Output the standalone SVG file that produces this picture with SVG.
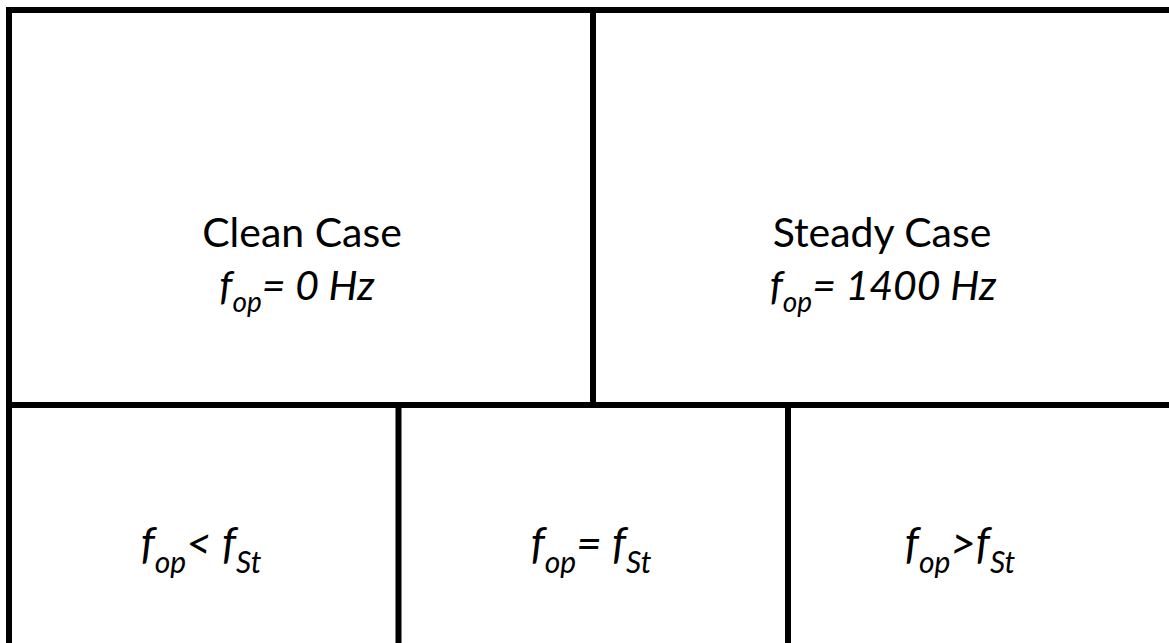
<svg xmlns="http://www.w3.org/2000/svg" width="1169" height="643" viewBox="0 0 1169 643">
  <style>
    .ln { stroke: #000; stroke-width: 6; fill: none; stroke-linecap: butt; }
    .t { font-family: Lato, "Liberation Sans", sans-serif; font-size: 41px; fill: #000; text-anchor: middle; }
    .b { font-size: 44px; }
    .it { font-style: italic; }
    .sub { font-size: 28px; }
    .subb { font-size: 30px; }
  </style>
  <rect x="0" y="0" width="1169" height="643" fill="#fff"/>
  <g id="grid">
    <line class="ln" x1="6" y1="10" x2="1169" y2="10"/>
    <line class="ln" x1="9" y1="7" x2="9" y2="643"/>
    <line class="ln" x1="593" y1="10" x2="593" y2="405"/>
    <line class="ln" x1="6" y1="405" x2="1169" y2="405"/>
    <line class="ln" x1="398.5" y1="405" x2="398.5" y2="643"/>
    <line class="ln" x1="788" y1="405" x2="788" y2="643"/>
  </g>
  <g id="clean-case">
    <text class="t" x="302" y="247">Clean Case</text>
    <text class="t it" x="297" y="300">f<tspan class="sub" dy="12">op</tspan><tspan dy="-12">= 0 Hz</tspan></text>
  </g>
  <g id="steady-case">
    <text class="t" x="882" y="247">Steady Case</text>
    <text class="t it" x="883" y="300">f<tspan class="sub" dy="12">op</tspan><tspan dy="-12">= 1400 Hz</tspan></text>
  </g>
  <g id="fop-lt-fst">
    <text class="t b it" x="201" y="559">f<tspan class="subb" dy="14">op</tspan><tspan dy="-14">&lt; f</tspan><tspan class="subb" dy="14">St</tspan></text>
  </g>
  <g id="fop-eq-fst">
    <text class="t b it" x="591" y="559">f<tspan class="subb" dy="14">op</tspan><tspan dy="-14">= f</tspan><tspan class="subb" dy="14">St</tspan></text>
  </g>
  <g id="fop-gt-fst">
    <text class="t b it" x="960" y="559">f<tspan class="subb" dy="14">op</tspan><tspan dy="-14">&gt;f</tspan><tspan class="subb" dy="14">St</tspan></text>
  </g>
</svg>
